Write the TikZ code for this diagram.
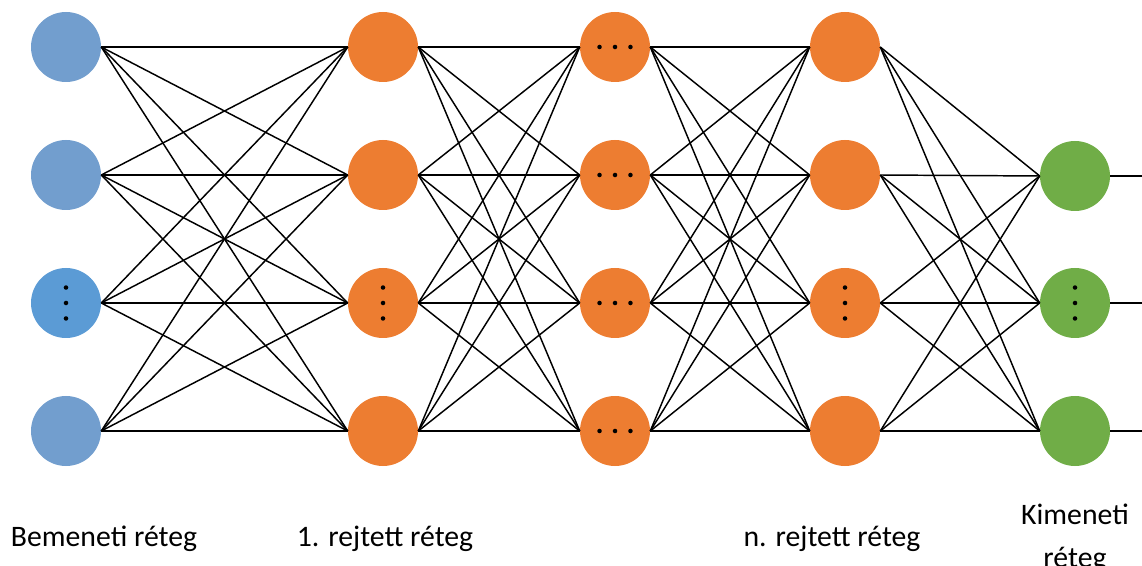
\documentclass[tikz,border=0pt]{standalone}
\usepackage{fontspec}
\setmainfont{Carlito}
\usetikzlibrary{positioning,calc}

\definecolor{inblue}{HTML}{729ECE}
\definecolor{midblue}{HTML}{5B9BD5}
\definecolor{hidorange}{HTML}{ED7D31}
\definecolor{outgreen}{HTML}{70AD47}

\begin{document}
\begin{tikzpicture}[x=0.75pt,y=-0.75pt,
    neuron/.style={circle,minimum size=52.5pt,inner sep=0pt},
    conn/.style={line width=1.1pt,black},
    layername/.style={font=\fontsize{22.3}{30}\selectfont,anchor=base,align=center}]

% Layer positions (x) and row positions (y).
\def\xin{66}            %Input layer.
\def\xha{383}           %First hidden layer.
\def\xhb{615}           %Middle hidden layer.
\def\xhn{845}           %Last hidden layer.
\def\xout{1075}         %Output layer.
\def\dotsep{11.6pt}     %Distance between the dots.

\useasboundingbox (0,0) rectangle (1142,566);

% Input layer
    \node[neuron,fill=inblue]  (in1) at (\xin,47)  {};
    \node[neuron,fill=inblue]  (in2) at (\xin,175) {};
    \node[neuron,fill=midblue] (in3) at (\xin,303) {};
    \node[neuron,fill=inblue]  (in4) at (\xin,431) {};

% Hidden layers
    \foreach \l/\x in {ha/\xha,hb/\xhb,hn/\xhn}{
        \node[neuron,fill=hidorange] (\l1) at (\x,47)  {};
        \node[neuron,fill=hidorange] (\l2) at (\x,175) {};
        \node[neuron,fill=hidorange] (\l3) at (\x,303) {};
        \node[neuron,fill=hidorange] (\l4) at (\x,431) {};
    }

% Output layer
    \node[neuron,fill=outgreen] (out1) at (\xout,176) {};
    \node[neuron,fill=outgreen] (out2) at (\xout,303) {};
    \node[neuron,fill=outgreen] (out3) at (\xout,431) {};

% Dots: vertical in the third row, horizontal in the middle layer.
    \foreach \n in {in3,ha3,hn3,out2}
        \foreach \d in {-1,0,1}
            \fill ($(\n)+(0,\d*\dotsep)$) circle (1.7pt);
    \foreach \n in {hb1,hb2,hb3,hb4}
        \foreach \d in {-1,0,1}
            \fill ($(\n)+(\d*\dotsep,0)$) circle (1.7pt);

% Connections between the layers.
    \foreach \a/\b in {in/ha,ha/hb,hb/hn}
        \foreach \i in {1,...,4}
            \foreach \j in {1,...,4}
                \draw[conn] (\a\i.east) -- (\b\j.west);
    \foreach \i in {1,...,4}
        \foreach \j in {1,...,3}
            \draw[conn] (hn\i.east) -- (out\j.west);

% Outputs leave the picture on the right.
    \foreach \j/\y in {1/176,2/303,3/431}{
        \coordinate (end\j) at (1142,\y);
        \draw[conn] (out\j.east) -- (end\j);
    }

% Layer names
    \node[layername] (lbin)  at (104,546)  {Bemeneti réteg};
    \node[layername] (lbha)  at (385,546)  {1. rejtett réteg};
    \node[layername] (lbhn)  at (832,546)  {n. rejtett réteg};
    \node[layername,font=\fontsize{22.3}{30}\selectfont] (lbout) at (\xout,567) {Kimeneti\\[2pt]réteg};

\end{tikzpicture}
\end{document}
